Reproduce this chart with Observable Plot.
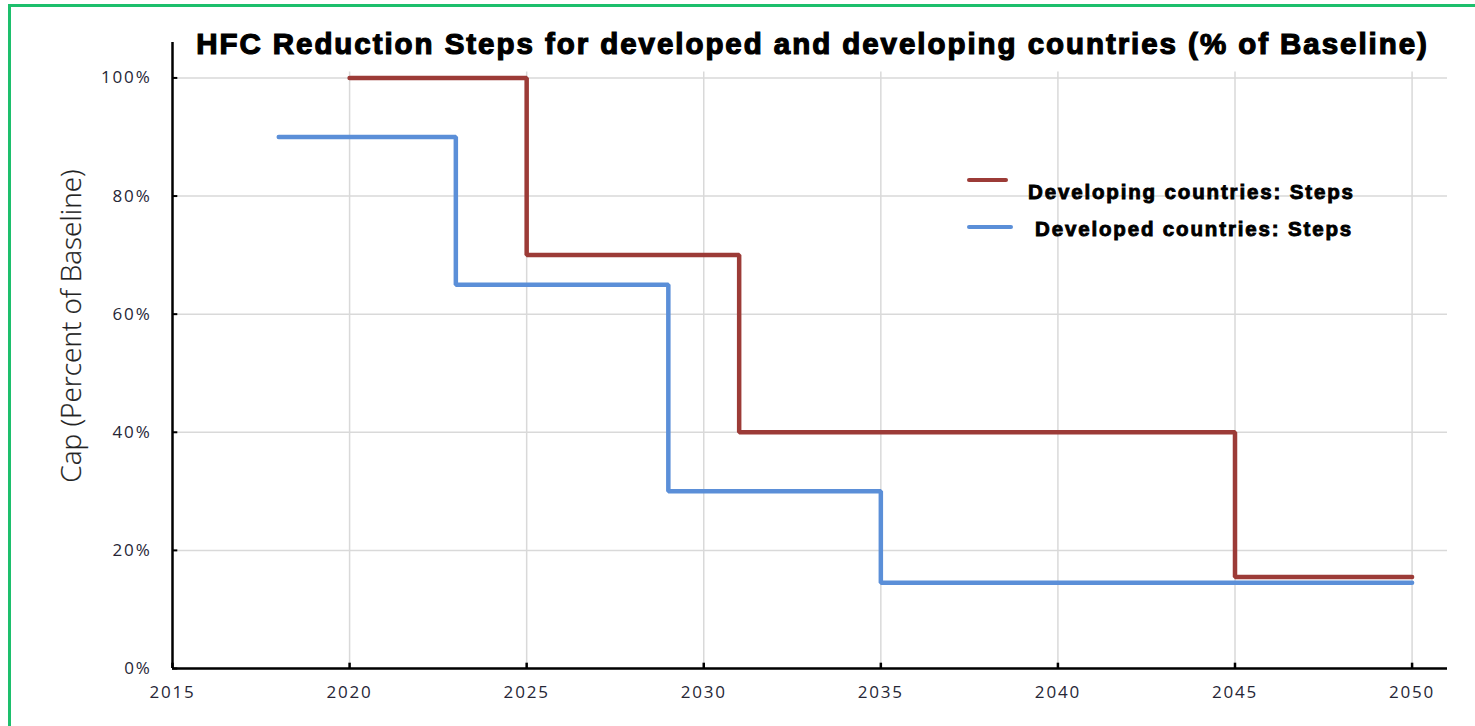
<!DOCTYPE html>
<html>
<head>
<meta charset="utf-8">
<script src="https://cdn.jsdelivr.net/npm/d3@7"></script>
<script src="https://cdn.jsdelivr.net/npm/@observablehq/plot@0.6"></script>
<style>
  html, body { margin: 0; padding: 0; background: #fff; overflow: hidden; }
  #wrap { position: relative; width: 1475px; height: 726px; overflow: hidden; }
  #frame { position: absolute; left: 8px; top: 4px; width: 2000px; height: 2000px;
           border-left: 3px solid #1dbf6c; border-top: 3px solid #1dbf6c; pointer-events: none; }
  #title { position: absolute; left: 0; width: 1475px; top: 26px; padding-left: 150px; box-sizing: border-box;
           text-align: center; font-family: "Liberation Sans", Arial, sans-serif; font-weight: bold;
           font-size: 29.5px; letter-spacing: 1.95px; line-height: 36px; color: #000; -webkit-text-stroke: 1.2px #000; white-space: nowrap; }
  #ylabel { position: absolute; left: 70px; top: 326px; transform: translate(-50%, -50%) rotate(-90deg);
            font-family: "Open Sans", sans-serif; font-weight: 300; font-size: 28px; color: #222; white-space: nowrap; -webkit-text-stroke: 0.2px #222; }
  .leg { position: absolute; font-family: "Liberation Sans", Arial, sans-serif; font-weight: bold; font-size: 20.5px;
         letter-spacing: 1.85px; color: #000; -webkit-text-stroke: 0.9px #000; white-space: nowrap; line-height: 24px; }
  .sw { position: absolute; height: 4px; border-radius: 2px; }
  svg text { letter-spacing: 1.8px; }
</style>
</head>
<body>
<div id="wrap">
  <div id="chart"></div>
  <div id="title"></div>
  <div id="ylabel"></div>
  <div id="legend"></div>
  <div id="frame"></div>
</div>
<script>
const titleText = "HFC Reduction Steps for developed and developing countries (% of Baseline)";
const yLabelText = "Cap (Percent of Baseline)";
const xTicks = [2015, 2020, 2025, 2030, 2035, 2040, 2045, 2050];
const yTicks = [0, 20, 40, 60, 80, 100];

const seriesNames = ["Developing countries: Steps", "Developed countries: Steps"];
const seriesColors = ["#9c3b37", "#5b8fd8"];

const developingYears = [2020, 2025, 2031, 2045, 2050];
const developingValues = [100, 70, 40, 15.5, 15.5];

const developedYears = [2018, 2023, 2029, 2035, 2050];
const developedValues = [90, 65, 30, 14.5, 14.5];

const developing = developingYears.map((x, i) => ({year: x, value: developingValues[i]}));
const developed = developedYears.map((x, i) => ({year: x, value: developedValues[i]}));

const grid = "#d9d9d9";
const labelColor = "#262636";
const plot = Plot.plot({
  width: 1475,
  height: 726,
  marginLeft: 172,
  marginRight: 28,
  marginTop: 42,
  marginBottom: 58,
  x: {domain: [2015, 2051]},
  y: {domain: [0, 106]},
  style: {fontFamily: "'Open Sans', sans-serif", color: labelColor, background: "transparent"},
  marks: [
    Plot.ruleY(yTicks, {x1: 2015, x2: 2051, stroke: grid, strokeWidth: 1.5}),
    Plot.ruleX(xTicks.slice(1), {y1: 0, y2: 101, stroke: grid, strokeWidth: 1.5}),
    Plot.axisX({ticks: xTicks, tickFormat: d => String(d), tickSize: 0, tickPadding: 17, fontSize: 17, label: null}),
    Plot.axisY({ticks: yTicks, tickFormat: d => d + "%", tickSize: 0, tickPadding: 21, fontSize: 17, label: null}),
    Plot.line(developed, {x: "year", y: "value", curve: "step-after", stroke: seriesColors[1], strokeWidth: 4.5, strokeLinejoin: "miter", strokeLinecap: "round"}),
    Plot.line(developing, {x: "year", y: "value", curve: "step-after", stroke: seriesColors[0], strokeWidth: 4.5, strokeLinejoin: "miter", strokeLinecap: "round"}),
    Plot.ruleX([2015], {y1: 0, y2: 106, stroke: "#000", strokeWidth: 2.5}),
    Plot.ruleY([0], {x1: 2015, x2: 2051, stroke: "#000", strokeWidth: 2.5}),
    Plot.ruleX(xTicks, {y1: 0, y2: 0.9, stroke: "#000", strokeWidth: 2.5}),
    Plot.ruleY(yTicks, {x1: 2015, x2: 2015.15, stroke: "#000", strokeWidth: 2})
  ]
});
document.getElementById("chart").appendChild(plot);

document.getElementById("title").textContent = titleText;
document.getElementById("ylabel").textContent = yLabelText;

const legend = document.getElementById("legend");
const legendLayout = [
  {swLeft: 967, swWidth: 41, swTop: 178, textLeft: 1028, textTop: 180},
  {swLeft: 967, swWidth: 46, swTop: 225, textLeft: 1035, textTop: 217}
];
seriesNames.forEach((name, i) => {
  const L = legendLayout[i];
  const sw = document.createElement("div");
  sw.className = "sw";
  sw.style.cssText = `left:${L.swLeft}px;top:${L.swTop}px;width:${L.swWidth}px;background:${seriesColors[i]}`;
  legend.appendChild(sw);
  const t = document.createElement("div");
  t.className = "leg";
  t.style.cssText = `left:${L.textLeft}px;top:${L.textTop}px`;
  t.textContent = name;
  legend.appendChild(t);
});
</script>
</body>
</html>
